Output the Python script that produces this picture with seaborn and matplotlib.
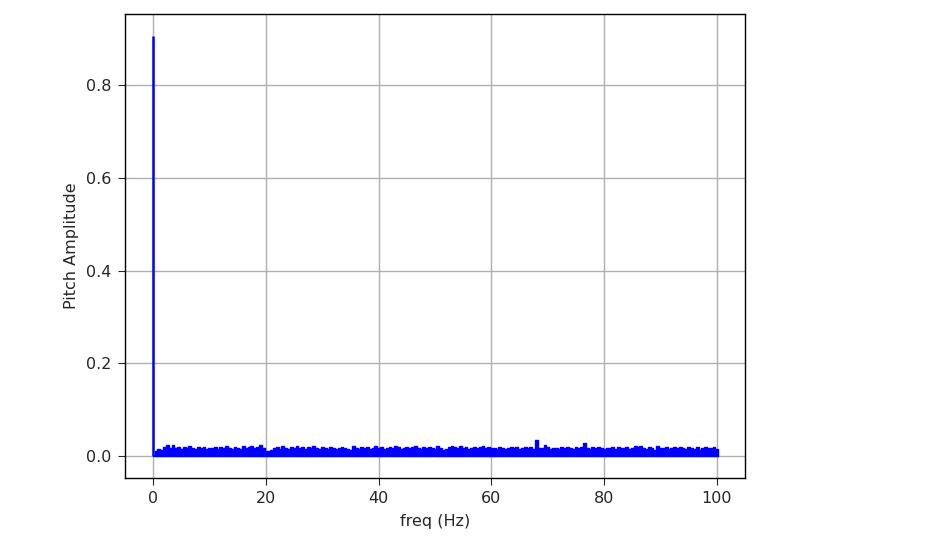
import numpy as np
import pandas as pd
import matplotlib
matplotlib.use("Agg")
import matplotlib.pyplot as plt
import seaborn as sns

# frequency axis (Hz), 0.5 Hz resolution
freq = np.arange(0, 100.5, 0.5)

# DC component
dc_amp = 0.905

# spectrum amplitude for 0.5 .. 100 Hz (5 Hz per row)
noise_amp = [
    0.012, 0.016, 0.014, 0.019, 0.025, 0.017, 0.024, 0.018, 0.020, 0.016,
    0.019, 0.017, 0.021, 0.018, 0.016, 0.020, 0.017, 0.019, 0.015, 0.018,
    0.017, 0.020, 0.016, 0.019, 0.018, 0.022, 0.017, 0.015, 0.019, 0.018,
    0.016, 0.021, 0.018, 0.019, 0.022, 0.017, 0.020, 0.024, 0.018, 0.012,
    0.011, 0.013, 0.017, 0.019, 0.016, 0.021, 0.018, 0.015, 0.019, 0.017,
    0.022, 0.018, 0.020, 0.016, 0.019, 0.017, 0.021, 0.018, 0.016, 0.019,
    0.018, 0.016, 0.019, 0.017, 0.015, 0.018, 0.020, 0.017, 0.016, 0.014,
    0.023, 0.018, 0.016, 0.019, 0.017, 0.020, 0.016, 0.018, 0.021, 0.017,
    0.019, 0.016, 0.018, 0.020, 0.017, 0.023, 0.019, 0.016, 0.018, 0.020,
    0.017, 0.019, 0.022, 0.018, 0.016, 0.019, 0.017, 0.020, 0.018, 0.016,
    0.021, 0.017, 0.013, 0.016, 0.019, 0.023, 0.020, 0.018, 0.021, 0.017,
    0.019, 0.016, 0.018, 0.020, 0.017, 0.019, 0.022, 0.018, 0.020, 0.017,
    0.018, 0.016, 0.019, 0.017, 0.015, 0.018, 0.020, 0.017, 0.019, 0.016,
    0.018, 0.020, 0.017, 0.019, 0.016, 0.034, 0.018, 0.017, 0.024, 0.019,
    0.016, 0.018, 0.017, 0.015, 0.019, 0.017, 0.020, 0.018, 0.016, 0.019,
    0.017, 0.020, 0.029, 0.018, 0.016, 0.019, 0.017, 0.020, 0.018, 0.016,
    0.018, 0.017, 0.019, 0.016, 0.020, 0.018, 0.017, 0.019, 0.016, 0.018,
    0.022, 0.019, 0.023, 0.018, 0.016, 0.019, 0.017, 0.014, 0.021, 0.018,
    0.017, 0.019, 0.016, 0.018, 0.020, 0.017, 0.019, 0.018, 0.016, 0.019,
    0.018, 0.016, 0.019, 0.013, 0.017, 0.020, 0.018, 0.017, 0.019, 0.016,
]

df = pd.DataFrame({"freq": freq[1:], "amp": noise_amp})

plt.rcParams.update({
    "font.size": 11.5,
    "text.color": "#262626",
    "axes.labelcolor": "#262626",
    "xtick.color": "#262626",
    "ytick.color": "#262626",
    "xtick.major.size": 4.8,
    "ytick.major.size": 4.8,
    "xtick.major.pad": 4.8,
    "ytick.major.pad": 4.8,
    "axes.labelpad": 5.5,
})

fig = plt.figure(figsize=(9.38, 5.4), dpi=100)
ax = fig.add_axes([0.1333, 0.1148, 0.661, 0.859])

# bin edges centred on each frequency sample
edges = [float(f) - 0.25 for f in freq[1:]] + [float(freq[-1]) + 0.25]
sns.histplot(data=df, x="freq", weights="amp", bins=edges, element="step",
             fill=True, color="blue", alpha=1, linewidth=1, ax=ax)
ax.vlines(freq[0], 0, dc_amp, color="blue", linewidth=1.8)
ax.hlines(0, freq[0], freq[-1], color="blue", linewidth=1.5)

ax.set_xlim(-5, 105)
ax.set_ylim(-0.047, 0.953)
ax.set_xticks([0, 20, 40, 60, 80, 100])
ax.set_yticks([0.0, 0.2, 0.4, 0.6, 0.8])
ax.grid(True, color="#b0b0b0", linewidth=1.0)
ax.set_axisbelow(True)
for s in ax.spines.values():
    s.set_linewidth(1.0)
ax.set_xlabel("freq (Hz)")
ax.set_ylabel("Pitch Amplitude")

fig.savefig("out.png", dpi=100)
